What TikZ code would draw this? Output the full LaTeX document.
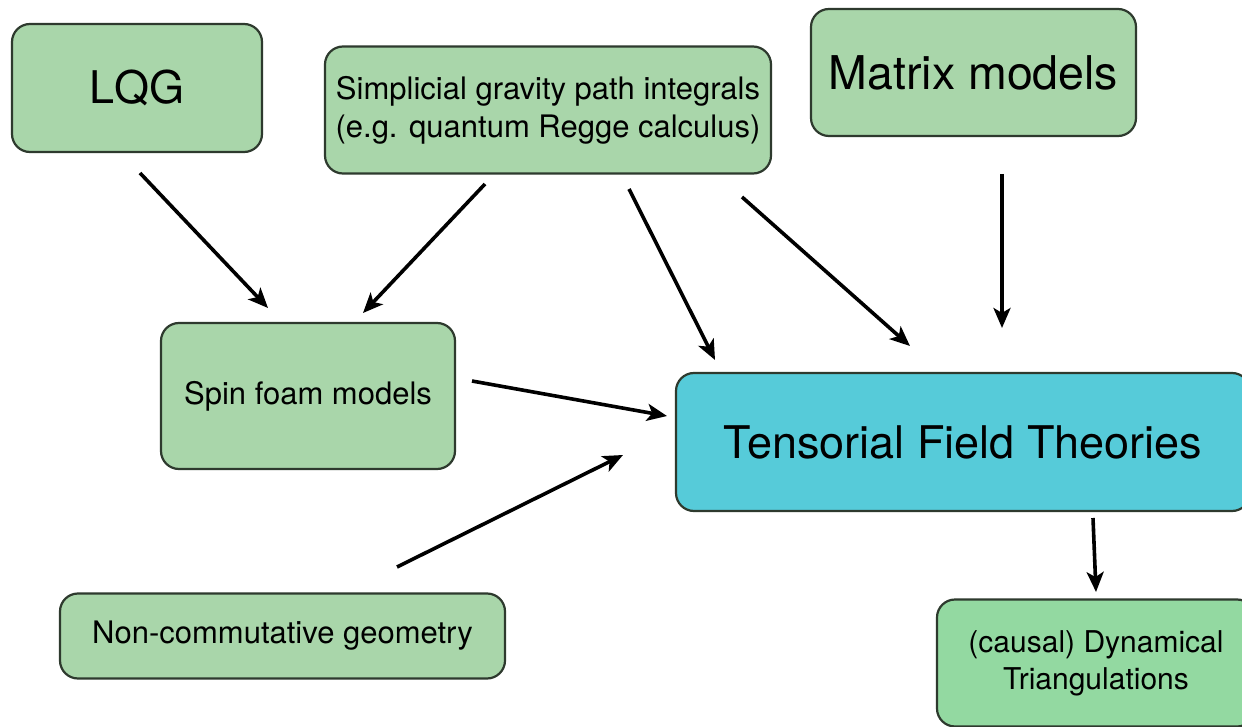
\documentclass[tikz,border=0pt]{standalone}
\usepackage{fontspec}
\setmainfont{TeX Gyre Heros}
\usetikzlibrary{arrows.meta}
\definecolor{boxgreen}{HTML}{A9D6AA}
\definecolor{dtgreen}{HTML}{93D9A1}
\definecolor{tftcyan}{HTML}{56CBD9}
\definecolor{edge}{HTML}{2E3A2E}
\tikzset{
  box/.style={draw=edge, line width=2.2pt, rounded corners=18pt, fill=boxgreen, inner sep=0pt, align=center, font=\fontsize{31}{38}\selectfont},
  arr/.style={line width=3.6pt, -{Stealth[length=20pt,width=17pt,inset=5pt]}, black}
}
\begin{document}
\begin{tikzpicture}[x=1pt,y=-1pt]
\useasboundingbox (0,0) rectangle (1242,727);
\fill[white] (0,0) rectangle (1242,727);
% boxes
\node[box, minimum width=250pt, minimum height=128pt, font=\fontsize{45}{50}\selectfont] (lqg) at (137,88) {LQG};
\node[box, minimum width=446pt, minimum height=127pt] (simp) at (548,110) {Simplicial gravity path integrals\\(e.g. quantum Regge calculus)};
\node[box, minimum width=325pt, minimum height=127pt, font=\fontsize{46.5}{50}\selectfont] (matrix) at (973.5,72.5) {Matrix models};
\node[box, minimum width=294pt, minimum height=146pt] (spin) at (308,396) {Spin foam models};
\node[box, fill=tftcyan, minimum width=574pt, minimum height=138pt, font=\fontsize{45}{50}\selectfont] (tft) at (963,442) {Tensorial Field Theories};
\node[box, minimum width=445pt, minimum height=85pt] (nc) at (282.5,636) {Non-commutative geometry};
\node[box, fill=dtgreen, minimum width=318pt, minimum height=127pt, font=\fontsize{30}{37}\selectfont] (dt) at (1096,663) {(causal) Dynamical\\Triangulations};
% arrow end points
\coordinate (a1s) at (140,173); \coordinate (a1e) at (268,308);
\coordinate (a2s) at (485,184); \coordinate (a2e) at (363,313);
\coordinate (a3s) at (629,189); \coordinate (a3e) at (715,360);
\coordinate (a4s) at (742,197); \coordinate (a4e) at (910,346);
\coordinate (a5s) at (1002,174); \coordinate (a5e) at (1002,328);
\coordinate (a6s) at (472,381); \coordinate (a6e) at (667,416);
\coordinate (a7s) at (397,567); \coordinate (a7e) at (623,455);
\coordinate (a8s) at (1093,518); \coordinate (a8e) at (1096,592);
\foreach \i in {1,...,8} \draw[arr] (a\i s) -- (a\i e);
\end{tikzpicture}
\end{document}
